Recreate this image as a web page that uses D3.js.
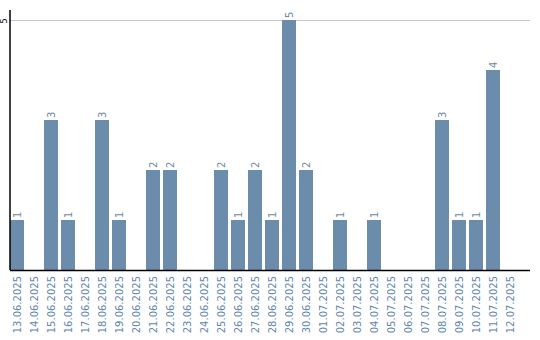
<!DOCTYPE html>
<html>
<head>
<meta charset="UTF-8">
<script src="https://d3js.org/d3.v7.min.js"></script>
<style>
  body { margin: 0; background: #fff; }
</style>
</head>
<body>
<script>
// Data
var dates = ["13.06.2025","14.06.2025","15.06.2025","16.06.2025","17.06.2025","18.06.2025",
  "19.06.2025","20.06.2025","21.06.2025","22.06.2025","23.06.2025","24.06.2025","25.06.2025",
  "26.06.2025","27.06.2025","28.06.2025","29.06.2025","30.06.2025","01.07.2025","02.07.2025",
  "03.07.2025","04.07.2025","05.07.2025","06.07.2025","07.07.2025","08.07.2025","09.07.2025",
  "10.07.2025","11.07.2025","12.07.2025"];
var counts = [1,0,3,1,0,3,1,0,2,2,0,0,2,1,2,1,5,2,0,1,0,1,0,0,0,3,1,1,4,0];
var yTicks = [5];

var width = 540, height = 340;
var plotLeft = 10, plotRight = 530, plotTop = 20, plotBottom = 270;
var font = "DejaVu Sans, sans-serif";

var svg = d3.select("body").append("svg")
  .attr("width", width)
  .attr("height", height);

var x = d3.scaleBand().domain(dates).range([plotLeft, 517]).paddingInner(3 / 17).paddingOuter(0);
var y = d3.scaleLinear().domain([0, 5]).range([plotBottom, plotTop]);

// grid line
svg.selectAll("line.grid").data(yTicks).enter().append("line")
  .attr("class", "grid")
  .attr("x1", plotLeft).attr("x2", plotRight)
  .attr("y1", function(d) { return y(d) + 0.5; })
  .attr("y2", function(d) { return y(d) + 0.5; })
  .attr("stroke", "#c8c8c8");

// bars
svg.selectAll("rect.bar").data(counts).enter().append("rect")
  .attr("class", "bar")
  .attr("x", function(d, i) { return x(dates[i]); })
  .attr("y", function(d) { return y(d); })
  .attr("width", x.bandwidth())
  .attr("height", function(d) { return plotBottom - y(d); })
  .attr("fill", "#6b8cab");

// value labels
counts.forEach(function(d, i) {
  if (d <= 0) return;
  var cx = x(dates[i]) + x.bandwidth() / 2;
  svg.append("text")
    .attr("class", "val")
    .attr("transform", "translate(" + (cx + 3.5) + "," + (y(d) - 2) + ") rotate(-90)")
    .attr("font-family", font)
    .attr("font-size", 10)
    .attr("fill", "#6d8aa6")
    .text(d);
});

// x axis
var xAxis = svg.append("g")
  .attr("transform", "translate(0," + plotBottom + ")")
  .call(d3.axisBottom(x).tickSize(0).tickPadding(0));
xAxis.select(".domain").remove();
xAxis.append("line").attr("x1", plotLeft).attr("x2", plotRight).attr("y1", 0.5).attr("y2", 0.5)
  .attr("stroke", "#000").attr("stroke-width", 1.5);
xAxis.selectAll("text")
  .attr("font-family", font)
  .attr("font-size", 10)
  .attr("fill", "#5f86ae")
  .attr("text-anchor", "end")
  .attr("dy", null)
  .attr("y", 0)
  .attr("transform", "translate(3.5,6) rotate(-90)");

// y axis
var yAxis = svg.append("g")
  .attr("transform", "translate(" + plotLeft + ",0)")
  .call(d3.axisLeft(y).tickValues(yTicks).tickFormat(d3.format("d")).tickSize(0).tickPadding(0));
yAxis.select(".domain").remove();
yAxis.append("line").attr("x1", 0).attr("x2", 0).attr("y1", 10).attr("y2", plotBottom)
  .attr("stroke", "#000").attr("stroke-width", 1.5);
yAxis.selectAll(".tick")
  .attr("transform", null);
yAxis.selectAll("text")
  .attr("font-family", font)
  .attr("font-size", 8)
  .attr("fill", "#000")
  .attr("text-anchor", "middle")
  .attr("dy", null)
  .attr("x", 0)
  .attr("y", 0)
  .attr("transform", function(d) { return "translate(-3," + (y(d) + 1) + ") rotate(-90)"; });
</script>
</body>
</html>
